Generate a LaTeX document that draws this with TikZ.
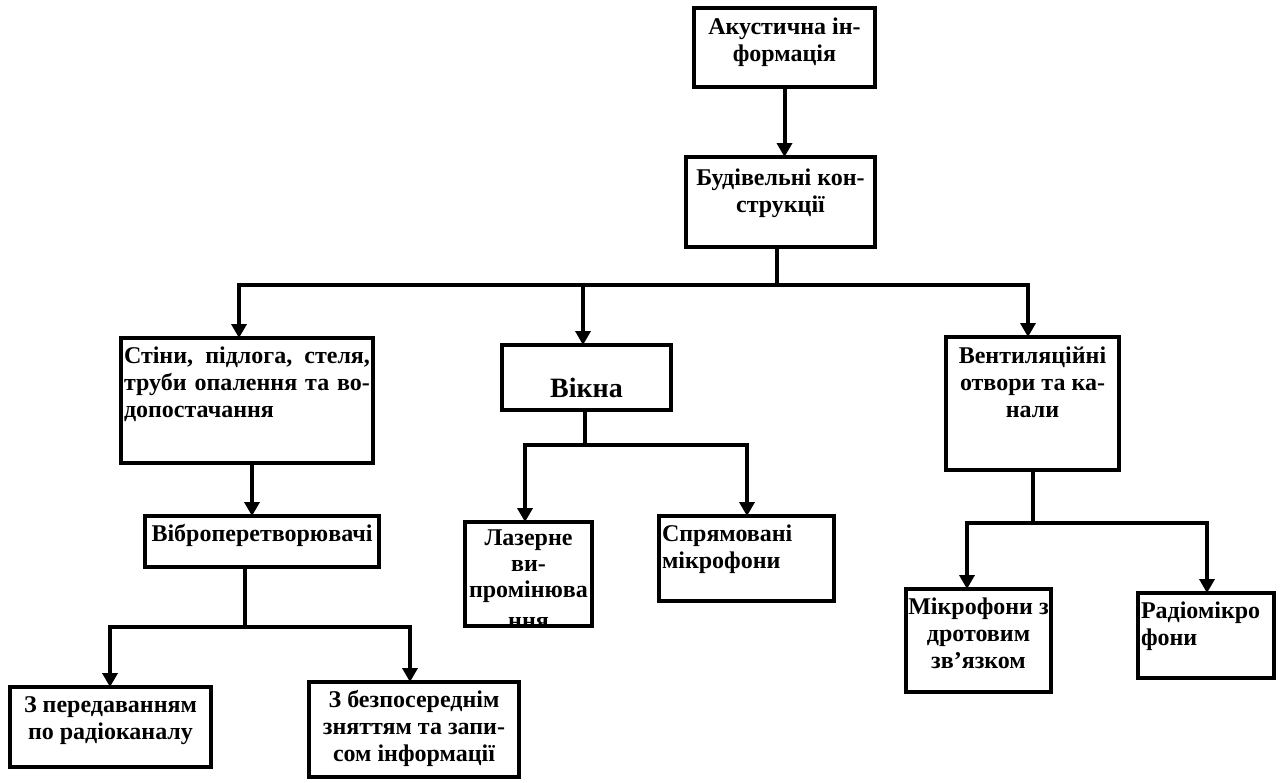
\documentclass[tikz,border=0pt]{standalone}
\usepackage{fontspec}
\setmainfont{Liberation Serif}
\usetikzlibrary{arrows.meta}
\newcommand{\fs}{\fontsize{24}{27}\selectfont\bfseries}
\newcommand{\bxc}[4]{\parbox[t][#2][t]{#1}{\vspace*{#3}\centering #4\par}}
\newcommand{\bxl}[4]{\parbox[t][#2][t]{#1}{\vspace*{#3}\raggedright\leftskip=3pt #4\par}}
\newcommand{\bxj}[4]{\parbox[t][#2][t]{#1}{\vspace*{#3}\leftskip=3pt\rightskip=3pt\parindent=0pt #4\par}}
\tikzset{
  bx/.style={draw, line width=4pt, inner sep=0pt, outer sep=0pt, anchor=north west, font=\fs},
  ln/.style={line width=4pt},
  arr/.style={line width=4pt, -{Triangle[width=15pt,length=14pt]}},
}
\begin{document}
\begin{tikzpicture}[x=1pt,y=-1pt]
\useasboundingbox[fill=white] (0,0) rectangle (1282,782);
% boxes
\node[bx] (a1) at (694,8)   {\bxc{181pt}{79pt}{10pt}{Акустична ін-\\формація}};
\node[bx] (a2) at (686,157) {\bxc{189pt}{90pt}{12pt}{Будівельні кон-\\струкції}};
\node[bx] (b1) at (121,338) {\bxj{252pt}{125pt}{9pt}{Стіни, підлога, стеля,\linebreak труби опалення та во-\linebreak допостачання}};
\node[bx] (b2) at (502,345) {\bxc{169pt}{65pt}{33pt}{\fontsize{28}{32}\selectfont Вікна}};
\node[bx] (b3) at (946,337) {\bxc{173pt}{133pt}{10pt}{Вентиляційні\\отвори та ка-\\нали}};
\node[bx] (c1) at (145,516) {\bxc{234pt}{51pt}{8pt}{Віброперетворювачі}};
\node[bx] (c2) at (465,522) {\bxc{127pt}{104pt}{8pt}{\baselineskip=26pt Лазерне\\ви-\\промінюва\\[5pt]ння}};
\node[bx] (c3) at (659,516) {\bxl{175pt}{85pt}{9pt}{Спрямовані\\мікрофони}};
\node[bx] (c4) at (906,589) {\bxc{145pt}{103pt}{9pt}{Мікрофони з\\дротовим\\зв’язком}};
\node[bx] (c5) at (1138,593) {\bxl{136pt}{85pt}{9pt}{Радіомікро\\фони}};
\node[bx] (d1) at (10,687)  {\bxc{201pt}{80pt}{10pt}{З передаванням\\по радіоканалу}};
\node[bx] (d2) at (309,682) {\bxc{210pt}{95pt}{8pt}{З безпосереднім\\зняттям та запи-\\сом інформації}};
% border over the overflowing last line
\draw[ln] (c2.south west) -- (c2.south east);
% junction points
\coordinate (h1) at (777,285);
\coordinate (h1l) at (239,285);
\coordinate (h1m) at (583,285);
\coordinate (h1r) at (1028,285);
\coordinate (v1) at (252,0);
\coordinate (h2) at (245,627);
\coordinate (h2l) at (110,627);
\coordinate (h2r) at (410,627);
\coordinate (h3) at (585,445);
\coordinate (h3l) at (525,445);
\coordinate (h3r) at (747,445);
\coordinate (h4) at (1033,523);
\coordinate (h4l) at (967,523);
\coordinate (h4r) at (1207,523);
% connectors
\draw[arr] (a1.south) -- (a1.south |- a2.north);
\draw[ln] (a2.south -| h1) -- (h1);
\draw[arr] (h1) -- (h1l) -- (h1l |- b1.north);
\draw[arr] (h1) -- (h1r) -- (h1r |- b3.north);
\draw[arr] (h1m) -- (h1m |- b2.north);
\draw[arr] (b1.south -| v1) -- (v1 |- c1.north);
\draw[ln] (c1.south -| h2) -- (h2);
\draw[arr] (h2) -- (h2l) -- (h2l |- d1.north);
\draw[arr] (h2) -- (h2r) -- (h2r |- d2.north);
\draw[ln] (b2.south -| h3) -- (h3);
\draw[arr] (h3) -- (h3l) -- (h3l |- c2.north);
\draw[arr] (h3) -- (h3r) -- (h3r |- c3.north);
\draw[ln] (b3.south -| h4) -- (h4);
\draw[arr] (h4) -- (h4l) -- (h4l |- c4.north);
\draw[arr] (h4) -- (h4r) -- (h4r |- c5.north);
\end{tikzpicture}
\end{document}
